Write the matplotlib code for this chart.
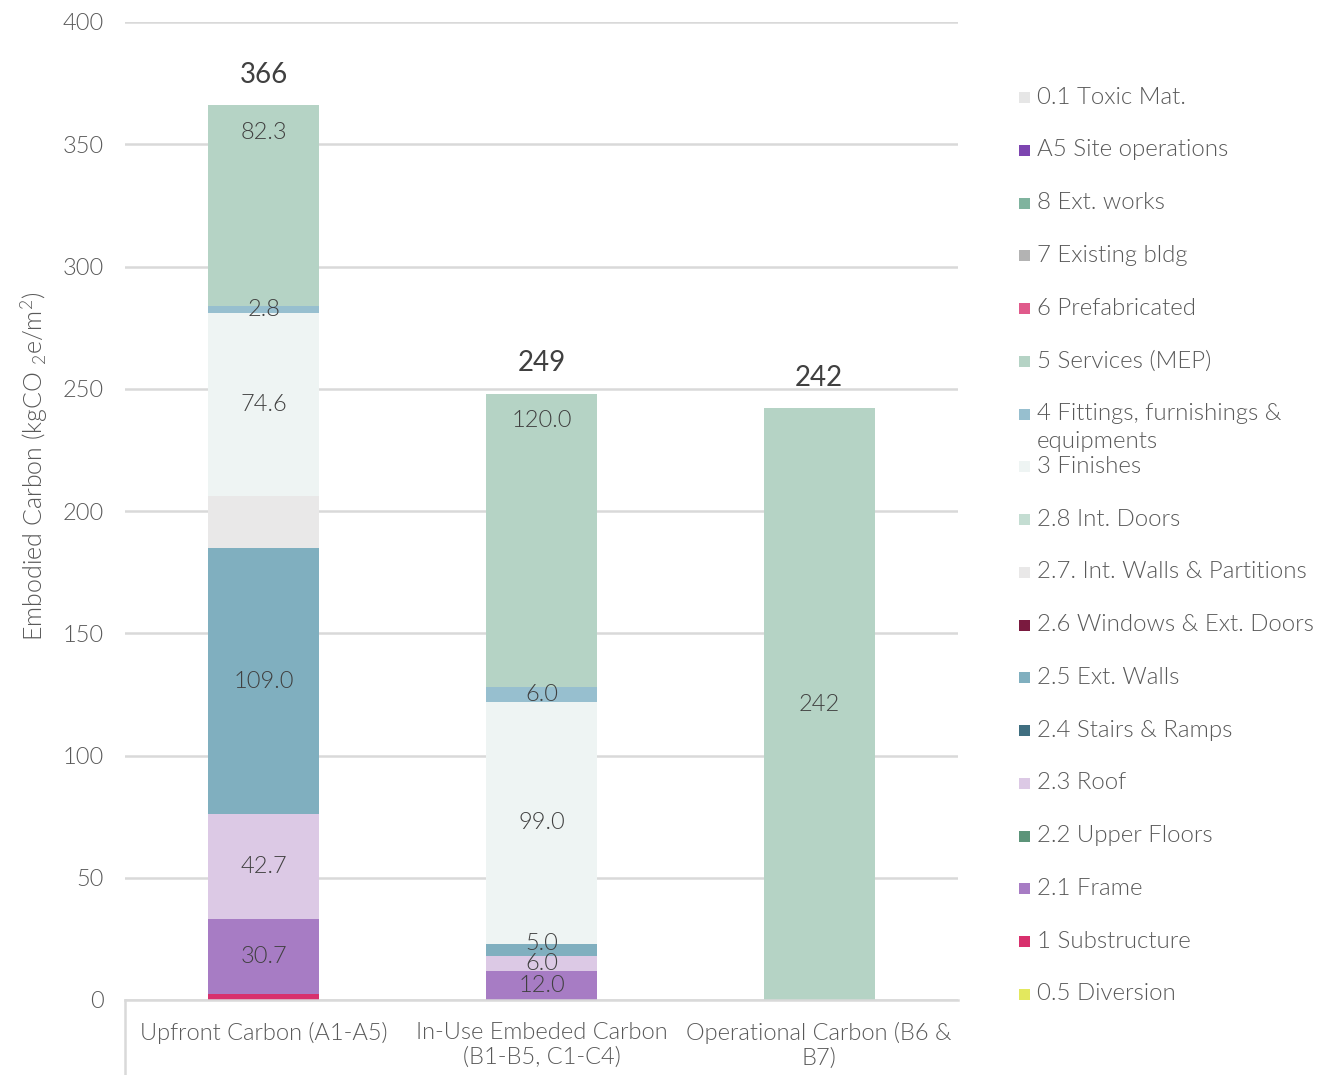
import matplotlib
matplotlib.use("Agg")
import matplotlib.pyplot as plt
from matplotlib.patches import Rectangle
import numpy as np

# ---- data -------------------------------------------------------------
categories = ["Upfront Carbon (A1-A5)",
              "In-Use Embeded Carbon\n(B1-B5, C1-C4)",
              "Operational Carbon (B6 &\nB7)"]

# series in stacking order (bottom -> top)
series_names = ["0.5 Diversion", "1 Substructure", "2.1 Frame", "2.2 Upper Floors",
                "2.3 Roof", "2.4 Stairs & Ramps", "2.5 Ext. Walls",
                "2.6 Windows & Ext. Doors", "2.7. Int. Walls & Partitions",
                "2.8 Int. Doors", "3 Finishes",
                "4 Fittings, furnishings &\nequipments", "5 Services (MEP)",
                "6 Prefabricated", "7 Existing bldg", "8 Ext. works",
                "A5 Site operations", "0.1 Toxic Mat."]

series_colors = ["#e3e85e", "#d8306d", "#a77cc4", "#5c9479",
                 "#dcc9e5", "#3f6e80", "#80afbf",
                 "#7a1a3f", "#e9e8e8",
                 "#c4ddd2", "#eef4f3",
                 "#97bfcf", "#b5d3c5",
                 "#e05a8b", "#b3b3b3", "#7fb39e",
                 "#7d45b0", "#e6e6e6"]

# values per series: [Upfront, In-Use, Operational]
values = {
    "0.5 Diversion":                        [0.0, 0.0, 0.0],
    "1 Substructure":                       [2.5, 0.0, 0.0],
    "2.1 Frame":                            [30.7, 12.0, 0.0],
    "2.2 Upper Floors":                     [0.0, 0.0, 0.0],
    "2.3 Roof":                             [42.7, 6.0, 0.0],
    "2.4 Stairs & Ramps":                   [0.0, 0.0, 0.0],
    "2.5 Ext. Walls":                       [109.0, 5.0, 0.0],
    "2.6 Windows & Ext. Doors":             [0.0, 0.0, 0.0],
    "2.7. Int. Walls & Partitions":         [21.4, 0.0, 0.0],
    "2.8 Int. Doors":                       [0.0, 0.0, 0.0],
    "3 Finishes":                           [74.6, 99.0, 0.0],
    "4 Fittings, furnishings &\nequipments": [2.8, 6.0, 0.0],
    "5 Services (MEP)":                     [82.3, 120.0, 242.0],
    "6 Prefabricated":                      [0.0, 0.0, 0.0],
    "7 Existing bldg":                      [0.0, 0.0, 0.0],
    "8 Ext. works":                         [0.0, 0.0, 0.0],
    "A5 Site operations":                   [0.0, 0.0, 0.0],
    "0.1 Toxic Mat.":                       [0.0, 0.0, 0.0],
}

# segments that carry no value label
unlabeled = {("1 Substructure", 0), ("2.7. Int. Walls & Partitions", 0)}
# value label format per category
label_fmt = ["{:.1f}", "{:.1f}", "{:.0f}"]
# bar totals shown above each bar
totals = [366, 249, 242]

yticks = [0, 50, 100, 150, 200, 250, 300, 350, 400]

# ---- style ------------------------------------------------------------
FONT = ["Lato", "DejaVu Sans"]
LIGHT = 300
plt.rcParams["font.family"] = FONT
plt.rcParams["mathtext.fontset"] = "custom"
plt.rcParams["mathtext.rm"] = "Lato:weight=300"
plt.rcParams["mathtext.it"] = "Lato:weight=300"
TXT = "#595959"
LBL = "#404040"
GRID = "#d9d9d9"

W, H = 1320, 1075
fig = plt.figure(figsize=(W / 100, H / 100), dpi=100)
ax = fig.add_axes([125 / W, 1 - 1000 / H, 833 / W, 978 / H])

x = np.arange(len(categories))
bar_w = 0.40
bottom = np.zeros(len(categories))

for name, color in zip(series_names, series_colors):
    v = np.array(values[name], dtype=float)
    ax.bar(x, v, bar_w, bottom=bottom, color=color, edgecolor="none", zorder=2)
    for i, val in enumerate(v):
        if val <= 0 or (name, i) in unlabeled:
            continue
        ypos = bottom[i] + val / 2
        # services label sits near the top of the stacked bars
        if name == "5 Services (MEP)" and bottom[i] > 0:
            ypos = bottom[i] + val - 11
        # thin ext. walls slice in the in-use bar: lift its label a little
        if name == "2.5 Ext. Walls" and i == 1:
            ypos += 2.5
        ax.text(x[i], ypos, label_fmt[i].format(val), ha="center", va="center",
                fontsize=17, color=LBL, fontweight=LIGHT, zorder=3)
    bottom += v

for i, t in enumerate(totals):
    ax.text(x[i], bottom[i] + 12.5, f"{t}", ha="center", va="center",
            fontsize=20, color=LBL, fontweight="normal")

ax.set_xlim(-0.5, 2.5)
ax.set_ylim(0, 400)
ax.set_yticks(yticks)
ax.set_yticklabels([str(t) for t in yticks], fontsize=17, color=TXT,
                   fontweight=LIGHT)
ax.set_xticks(x)
ax.set_xticklabels(categories, fontsize=17, color=TXT, fontweight=LIGHT,
                   linespacing=1.2)
ax.tick_params(axis="both", length=0)
ax.tick_params(axis="y", pad=15)
ax.tick_params(axis="x", pad=16)
ax.yaxis.grid(True, color=GRID, linewidth=1.8, zorder=0)
ax.set_axisbelow(True)
for s in ["top", "right", "left"]:
    ax.spines[s].set_visible(False)
ax.spines["bottom"].set_color(GRID)
ax.spines["bottom"].set_linewidth(1.8)
# category divider below the axis at the left edge
ax.plot([0, 0], [0, -0.077], transform=ax.transAxes, color=GRID,
        linewidth=1.8, clip_on=False)

ax.set_ylabel("Embodied Carbon (kgCO $_{2}$e/m$^{2}$)", fontsize=18,
              color=TXT, fontweight=LIGHT)
ax.yaxis.set_label_coords(-0.090, 0.546)

# ---- legend (top entry = last series) --------------------------------
legend_items = list(zip(series_names, series_colors))[::-1]
top_px, bot_px = 97, 994
line_px = 28
ys = np.linspace(top_px, bot_px, len(legend_items))
for (name, color), ypx in zip(legend_items, ys):
    yf = 1 - ypx / H
    fig.patches.append(Rectangle((1019 / W, yf - 6 / H), 11 / W, 11 / H,
                                 transform=fig.transFigure, facecolor=color,
                                 edgecolor="none"))
    for k, line in enumerate(name.split("\n")):
        fig.text(1037 / W, yf - k * line_px / H, line, ha="left",
                 va="center", fontsize=17.3, color=TXT, fontweight=LIGHT)

fig.savefig("out.png", dpi=100, facecolor="white")
